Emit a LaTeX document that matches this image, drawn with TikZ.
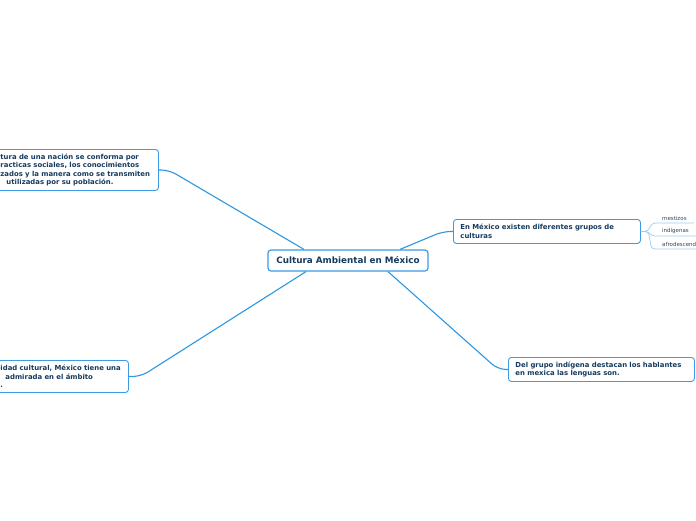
\documentclass[tikz,border=0pt]{standalone}
\usepackage{fontspec}
\setmainfont{DejaVu Sans}
\usetikzlibrary{calc}
\definecolor{navy}{HTML}{163B5E}
\definecolor{edge}{HTML}{3C9BE6}
\definecolor{conn}{HTML}{2D98DF}
\definecolor{subline}{HTML}{9CCBEE}
\definecolor{subtext}{HTML}{34465A}
\tikzset{
  central/.style={draw=edge, line width=1.2pt, rounded corners=3pt, fill=white,
    text=navy, font=\fontsize{8.8}{10}\selectfont\bfseries,
    minimum width=160pt, minimum height=21pt, inner sep=0pt},
  topicbox/.style={draw=edge, line width=0.9pt, rounded corners=3pt, fill=white,
    text=navy, font=\fontsize{6.9}{8.6}\selectfont\bfseries,
    align=left, inner xsep=7pt, inner ysep=0pt, anchor=north west},
  subtopic/.style={text=subtext, font=\fontsize{5.5}{6.5}\selectfont,
    inner xsep=7pt, inner ysep=2pt, anchor=south west},
  connline/.style={draw=conn, line width=1.1pt, rounded corners=8pt},
  subconn/.style={draw=subline, line width=0.7pt},
}
\begin{document}
\begin{tikzpicture}[x=1pt,y=-1pt]
\useasboundingbox (0,0) rectangle (696,520);
\clip (0,0) rectangle (696,520);
\fill[white] (0,0) rectangle (696,520);

% central
\node[central] (c) at (348,260.5) {Cultura Ambiental en México};

% topics
\node[topicbox, text width=151pt, minimum height=41pt] (tl) at (-7,149)
  {tura de una nación se conforma por\\
   racticas sociales, los conocimientos\\
   zados y la manera como se transmiten\\
   \hspace*{6pt}utilizadas por su población.};
\node[topicbox, text width=121pt, minimum height=32pt] (bl) at (-7,360)
  {idad cultural, México tiene una\\
   \hspace*{5pt}admirada en el ámbito\\
   .};
\node[topicbox, text width=173pt, minimum height=24pt] (rt) at (453,219)
  {En México existen diferentes grupos de\\culturas};
\node[topicbox, text width=172pt, minimum height=24pt] (rb) at (508,357)
  {Del grupo indígena destacan los hablantes\\en mexica las lenguas son.};

% connectors
\draw[connline] (tl.east) -- ++(10,0) -- ($(c.north)+(-44,0)$);
\draw[connline] (bl.east) -- ++(12,0) -- ($(c.south)+(-42,0)$);
\draw[connline] ($(c.north)+(52,0)$) -- ($(rt.west)+(-10,0)$) -- (rt.west);
\draw[connline] ($(c.south)+(40,0)$) -- ($(rb.west)+(-10,0)$) -- (rb.west);

% subtopics
\node[subtopic] (s1) at (655,223) {mestizos};
\node[subtopic] (s2) at (655,236) {indígenas};
\node[subtopic, minimum width=60pt, align=left, text width=46pt] (s3) at (655,249) {afrodescend};
\foreach \s in {s1,s2,s3}{
  \draw[subconn] (rt.east) -- ++(4,0) to[out=0,in=180] (\s.south west) -- (\s.south east);
}
\end{tikzpicture}
\end{document}
